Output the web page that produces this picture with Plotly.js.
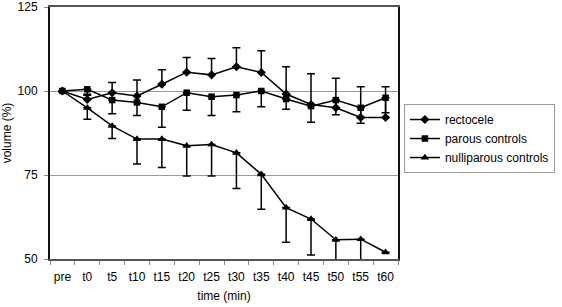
<!DOCTYPE html>
<html>
<head>
<meta charset="utf-8">
<script src="https://cdn.plot.ly/plotly-3.0.1.min.js"></script>
<style>html,body{margin:0;padding:0;background:#fff;}#chart{width:562px;height:307px;}</style>
</head>
<body>
<div id="chart"></div>
<script>
var categories = ["pre","t0","t5","t10","t15","t20","t25","t30","t35","t40","t45","t50","t55","t60"];

var rectocele      = [100, 97.5, 99.5, 98.5, 102.0, 105.6, 104.8, 107.2, 105.5, 99.1, 96.0, 95.0, 92.1, 92.1];
var rectoceleErrUp = [0, 1.2, 3.0, 4.8, 4.3, 4.4, 4.9, 5.7, 6.5, 8.1, 9.1, 8.8, 9.2, 9.2];

var parous         = [100, 100.5, 97.3, 96.6, 95.3, 99.5, 98.3, 98.8, 100.0, 97.6, 95.5, 97.3, 95.0, 98.0];
var parousErrDown  = [0, 1.5, 4.1, 3.9, 6.1, 5.2, 5.6, 5.0, 4.7, 3.0, 4.8, 4.4, 4.6, 4.5];

var nulliparous        = [100, 95.0, 89.6, 85.7, 85.7, 83.7, 84.1, 81.6, 75.2, 65.3, 61.9, 55.7, 55.9, 52.0];
var nulliparousErrDown = [0, 3.4, 3.7, 7.4, 8.5, 9.0, 9.4, 10.6, 10.4, 10.3, 10.7, 7.0, 7.0, 0];

var names = ["rectocele", "parous controls", "nulliparous controls"];
var tickVals = [50, 75, 100, 125];

var base = {
  type: "scatter",
  mode: "lines+markers",
  x: categories,
  line: {color: "#000", width: 1.5},
  cliponaxis: false
};

function zeros(a){ return a.map(function(){ return 0; }); }

var traces = [
  Object.assign({}, base, {
    name: names[0], y: rectocele,
    marker: {symbol: "diamond", size: 7, color: "#000"},
    error_y: {type: "data", symmetric: false, array: rectoceleErrUp, arrayminus: zeros(rectoceleErrUp), color: "#000", thickness: 1.5, width: 4}
  }),
  Object.assign({}, base, {
    name: names[1], y: parous,
    marker: {symbol: "square", size: 6.5, color: "#000"},
    error_y: {type: "data", symmetric: false, array: zeros(parousErrDown), arrayminus: parousErrDown, color: "#000", thickness: 1.5, width: 4}
  }),
  Object.assign({}, base, {
    name: names[2], y: nulliparous,
    marker: {symbol: "triangle-up", size: 7.5, color: "#000"},
    error_y: {type: "data", symmetric: false, array: zeros(nulliparousErrDown), arrayminus: nulliparousErrDown, color: "#000", thickness: 1.5, width: 4}
  })
];

var layout = {
  width: 562, height: 307,
  margin: {l: 50, r: 155, t: 7, b: 48},
  paper_bgcolor: "#fff", plot_bgcolor: "#fff",
  font: {family: "Liberation Sans, Arial, sans-serif", size: 12, color: "#000"},
  showlegend: true,
  legend: {
    x: 1.017, y: 0.615, xanchor: "left", yanchor: "top",
    bordercolor: "#999", borderwidth: 1, bgcolor: "#fff",
    font: {size: 12}, tracegroupgap: 0, itemwidth: 30
  },
  xaxis: {
    type: "category",
    range: [-0.5, 13.5],
    showline: true, linecolor: "#555", linewidth: 2, mirror: true,
    ticks: "outside", tickson: "boundaries", ticklen: 4, tickcolor: "#888",
    tickangle: 0,
    ticklabelstandoff: 6,
    showgrid: false, zeroline: false,
    tickfont: {size: 12},
    title: {text: "time (min)", font: {size: 12}, standoff: 8}
  },
  yaxis: {
    range: [50, 125],
    tickvals: tickVals,
    showline: true, linecolor: "#111", linewidth: 2, mirror: true,
    ticks: "outside", ticklen: 4, tickcolor: "#888",
    ticklabelstandoff: 4,
    showgrid: true, gridcolor: "#999", gridwidth: 1,
    zeroline: false,
    tickfont: {size: 12},
    title: {text: "volume (%)", font: {size: 12}, standoff: 4}
  }
};

Plotly.newPlot("chart", traces, layout, {staticPlot: true, displayModeBar: false});
</script>
</body>
</html>
